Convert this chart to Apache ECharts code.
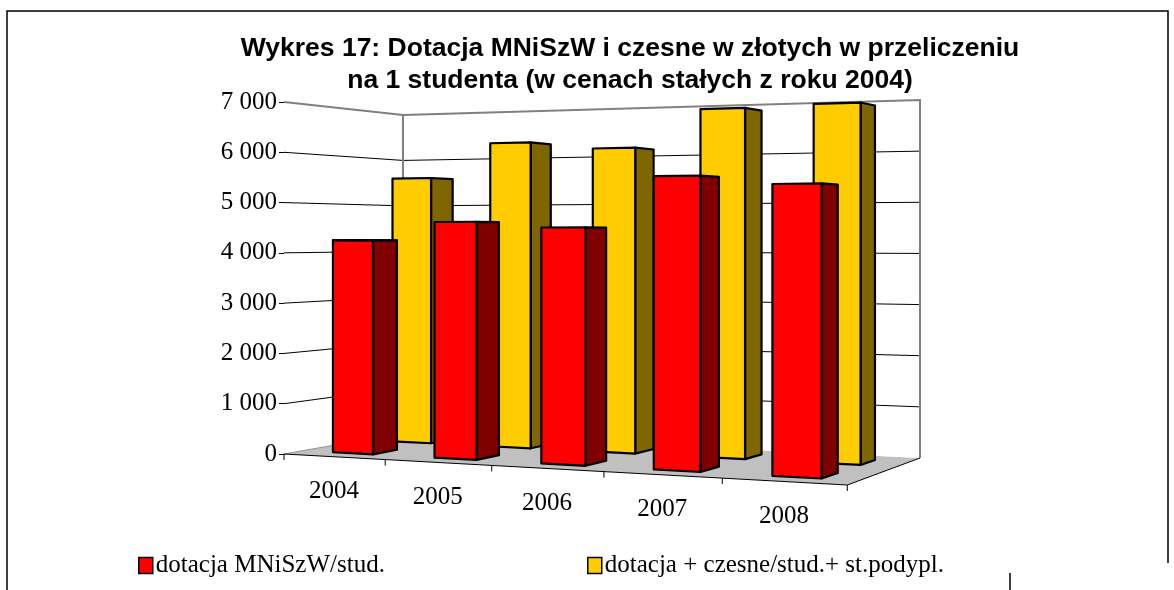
<!DOCTYPE html>
<html><head><meta charset="utf-8">
<script src="https://cdn.jsdelivr.net/npm/echarts@6/dist/echarts.min.js"></script>
<style>html,body{margin:0;padding:0;background:#fff}#c{width:1174px;height:590px}</style>
</head><body><div id="c"></div>
<script>
// ---- data ----
const categories = ['2004', '2005', '2006', '2007', '2008'];
const seriesNames = ['dotacja MNiSzW/stud.', 'dotacja + czesne/stud.+ st.podypl.'];
const dotacja = [4250, 4610, 4500, 5450, 5280];
const dotacjaCzesne = [5550, 6250, 6100, 6830, 6870];
const yTicks = [0, 1000, 2000, 3000, 4000, 5000, 6000, 7000];
const titleText = 'Wykres 17: Dotacja MNiSzW i czesne w złotych w przeliczeniu\nna 1 studenta (w cenach stałych z roku 2004)';

// ---- layout / style (3D frame) ----
const BACK = { left: { x: 403, floorY: 433, topY: 115 }, right: { x: 920, floorY: 458, topY: 100 } };
const BAR_WIDTH = 0.4;   // fraction of category band
const BAR_DEPTH = 0.4;   // fraction of row depth
const SERIF = '"Liberation Serif", "DejaVu Serif", serif';
const SANS = '"Liberation Sans", Arial, sans-serif';
const TXT = 25;
const COLORS = [
  { front: '#ff0000', side: '#800000', top: '#e60000' },
  { front: '#ffcc00', side: '#806600', top: '#e6b800' }
];

function makeProj(rect) {
  const xFL = rect.x, yFL = rect.y + rect.height, H = rect.height;
  const wBL = H / (BACK.left.floorY - BACK.left.topY);
  const wBR = H / (BACK.right.floorY - BACK.right.topY);
  const ax = BACK.right.x * wBR - BACK.left.x * wBL, bx = BACK.left.x * wBL - xFL;
  const ay = BACK.right.floorY * wBR - BACK.left.floorY * wBL, by = BACK.left.floorY * wBL - yFL;
  const aw = wBR - wBL, bw = wBL - 1;
  return function (u, v, t) {
    const w = 1 + aw * u + bw * v;
    return [(xFL + ax * u + bx * v) / w, (yFL + ay * u + by * v - H * t) / w];
  };
}
function area(pts) {
  let s = 0;
  for (let i = 0; i < pts.length; i++) {
    const a = pts[i], b = pts[(i + 1) % pts.length];
    s += a[0] * b[1] - b[0] * a[1];
  }
  return s;
}

function frameRender(params, api) {
  const rect = params.coordSys; const P = makeProj(rect);
  const yFL = rect.y + rect.height;
  const children = [];
  children.push({ type: 'polygon', shape: { points: [P(0,0,0), P(1,0,0), P(1,1,0), P(0,1,0)] },
    style: { fill: '#c0c0c0', stroke: null } });
  children.push({ type: 'polygon', shape: { points: [P(0,0,0), P(0,1,0), P(0,1,1), P(0,0,1)] },
    style: { fill: '#ffffff', stroke: null } });
  children.push({ type: 'polygon', shape: { points: [P(0,1,0), P(1,1,0), P(1,1,1), P(0,1,1)] },
    style: { fill: '#ffffff', stroke: null } });
  yTicks.forEach(function (tv) {
    const t = (yFL - api.coord([0, tv])[1]) / rect.height;
    if (t <= 0.0001 || t >= 0.9999) return;
    children.push({ type: 'polyline', shape: { points: [P(0,0,t), P(0,1,t), P(1,1,t)] },
      style: { stroke: '#000', lineWidth: 1, fill: null } });
  });
  children.push({ type: 'polyline', shape: { points: [P(0,0,1), P(0,1,1), P(1,1,1), P(1,1,0)] },
    style: { stroke: '#808080', lineWidth: 2, fill: null } });
  children.push({ type: 'polyline', shape: { points: [P(0,1,1), P(0,1,0)] },
    style: { stroke: '#808080', lineWidth: 2, fill: null } });
  children.push({ type: 'polyline', shape: { points: [P(0,0,0), P(0,1,0)] },
    style: { stroke: '#909090', lineWidth: 1, fill: null } });
  children.push({ type: 'polyline', shape: { points: [P(0,0,0), P(1,0,0), P(1,1,0)] },
    style: { stroke: '#000', lineWidth: 1, fill: null } });
  for (let k = 0; k <= categories.length; k++) {
    const p = P(k / categories.length, 0, 0);
    children.push({ type: 'line', shape: { x1: p[0], y1: p[1], x2: p[0], y2: p[1] + 6 },
      style: { stroke: '#000', lineWidth: 1 } });
  }
  return { type: 'group', children: children };
}

function barRender(row) {
  const col = COLORS[row];
  return function (params, api) {
    const rect = params.coordSys; const P = makeProj(rect);
    const cat = api.value(0), val = api.value(1);
    const c = api.coord([cat, val]);
    const base = api.coord([cat, 0]);
    const band = api.size([1, 0])[0];
    const uc = (c[0] - rect.x) / rect.width;
    const hw = BAR_WIDTH * band / 2 / rect.width;
    const t = (base[1] - c[1]) / rect.height;
    const ul = uc - hw, ur = uc + hw;
    const v0 = (row + (1 - BAR_DEPTH) / 2) / 2, v1 = (row + (1 + BAR_DEPTH) / 2) / 2;
    const lb0 = P(ul,v0,0), rb0 = P(ur,v0,0), rt0 = P(ur,v0,t), lt0 = P(ul,v0,t);
    const lb1 = P(ul,v1,0), rb1 = P(ur,v1,0), rt1 = P(ur,v1,t), lt1 = P(ul,v1,t);
    const faces = [
      { pts: [lb1, lb0, lt0, lt1], fill: col.side },
      { pts: [rb0, rb1, rt1, rt0], fill: col.side },
      { pts: [lb0, rb0, rt0, lt0], fill: col.front },
      { pts: [lt0, rt0, rt1, lt1], fill: col.top }
    ];
    const children = [];
    faces.forEach(function (f) {
      if (area(f.pts) < 0) {
        children.push({ type: 'polygon', shape: { points: f.pts },
          style: { fill: f.fill, stroke: '#000', lineWidth: 2.2, lineJoin: 'round' } });
      }
    });
    return { type: 'group', children: children };
  };
}

function labelRender(params, api) {
  const rect = params.coordSys; const P = makeProj(rect);
  const idx = api.value(0);
  const c = api.coord([idx, 0]);
  const u = (c[0] - rect.x) / rect.width;
  const p = P(u, 0, 0);
  return { type: 'text', x: p[0], y: p[1] + 35,
    style: { text: categories[idx], fill: '#000', font: TXT + 'px ' + SERIF,
      align: 'center', verticalAlign: 'middle', textAlign: 'center', textVerticalAlign: 'middle' } };
}

function legendFor(i, left) {
  return { left: left, top: 548, itemWidth: 14, itemHeight: 16, selectedMode: false,
    textStyle: { fontFamily: SERIF, fontSize: TXT, color: '#000', padding: [0, 0, 0, -2] },
    data: [{ name: seriesNames[i], icon: 'rect',
      itemStyle: { color: COLORS[i].front, borderColor: '#000', borderWidth: 1.5 } }] };
}

const chart = echarts.init(document.getElementById('c'));
chart.setOption({
  animation: false,
  backgroundColor: '#fff',
  title: { text: titleText, left: 625, top: 28, textAlign: 'center',
    textStyle: { fontFamily: SANS, fontWeight: 'bold', fontSize: 26.5, lineHeight: 32, color: '#000' } },
  grid: { left: 284, top: 102, width: 561, height: 352 },
  xAxis: { type: 'category', data: categories, boundaryGap: true, show: false },
  yAxis: { type: 'value', min: 0, max: 7000, interval: 1000,
    axisLine: { show: true, lineStyle: { color: '#000', width: 1 } },
    axisTick: { show: true, length: 5, lineStyle: { color: '#000' } },
    splitLine: { show: false },
    axisLabel: { color: '#000', fontFamily: SERIF, fontSize: TXT, margin: 7,
      formatter: function (v) { return String(v).replace(/\B(?=(\d{3})+(?!\d))/g, ' '); } } },
  legend: [legendFor(0, 133), legendFor(1, 582)],
  graphic: [
    { type: 'polyline', silent: true, shape: { points: [[7, 590], [7, 11], [1168, 11], [1168, 563]] },
      style: { stroke: '#000', lineWidth: 1.5, fill: null } },
    { type: 'line', silent: true, shape: { x1: 1010, y1: 573, x2: 1010, y2: 590 },
      style: { stroke: '#000', lineWidth: 1.5 } }
  ],
  series: [
    { type: 'custom', name: 'frame', silent: true, z: 1, renderItem: frameRender, data: [[0, 0]] },
    { type: 'custom', name: seriesNames[1], silent: true, z: 3, renderItem: barRender(1),
      itemStyle: { color: COLORS[1].front },
      data: dotacjaCzesne.map(function (v, i) { return [i, v]; }) },
    { type: 'custom', name: seriesNames[0], silent: true, z: 4, renderItem: barRender(0),
      itemStyle: { color: COLORS[0].front },
      data: dotacja.map(function (v, i) { return [i, v]; }) },
    { type: 'custom', name: 'labels', silent: true, z: 5, renderItem: labelRender,
      data: categories.map(function (c, i) { return [i]; }) }
  ]
});
</script></body></html>
